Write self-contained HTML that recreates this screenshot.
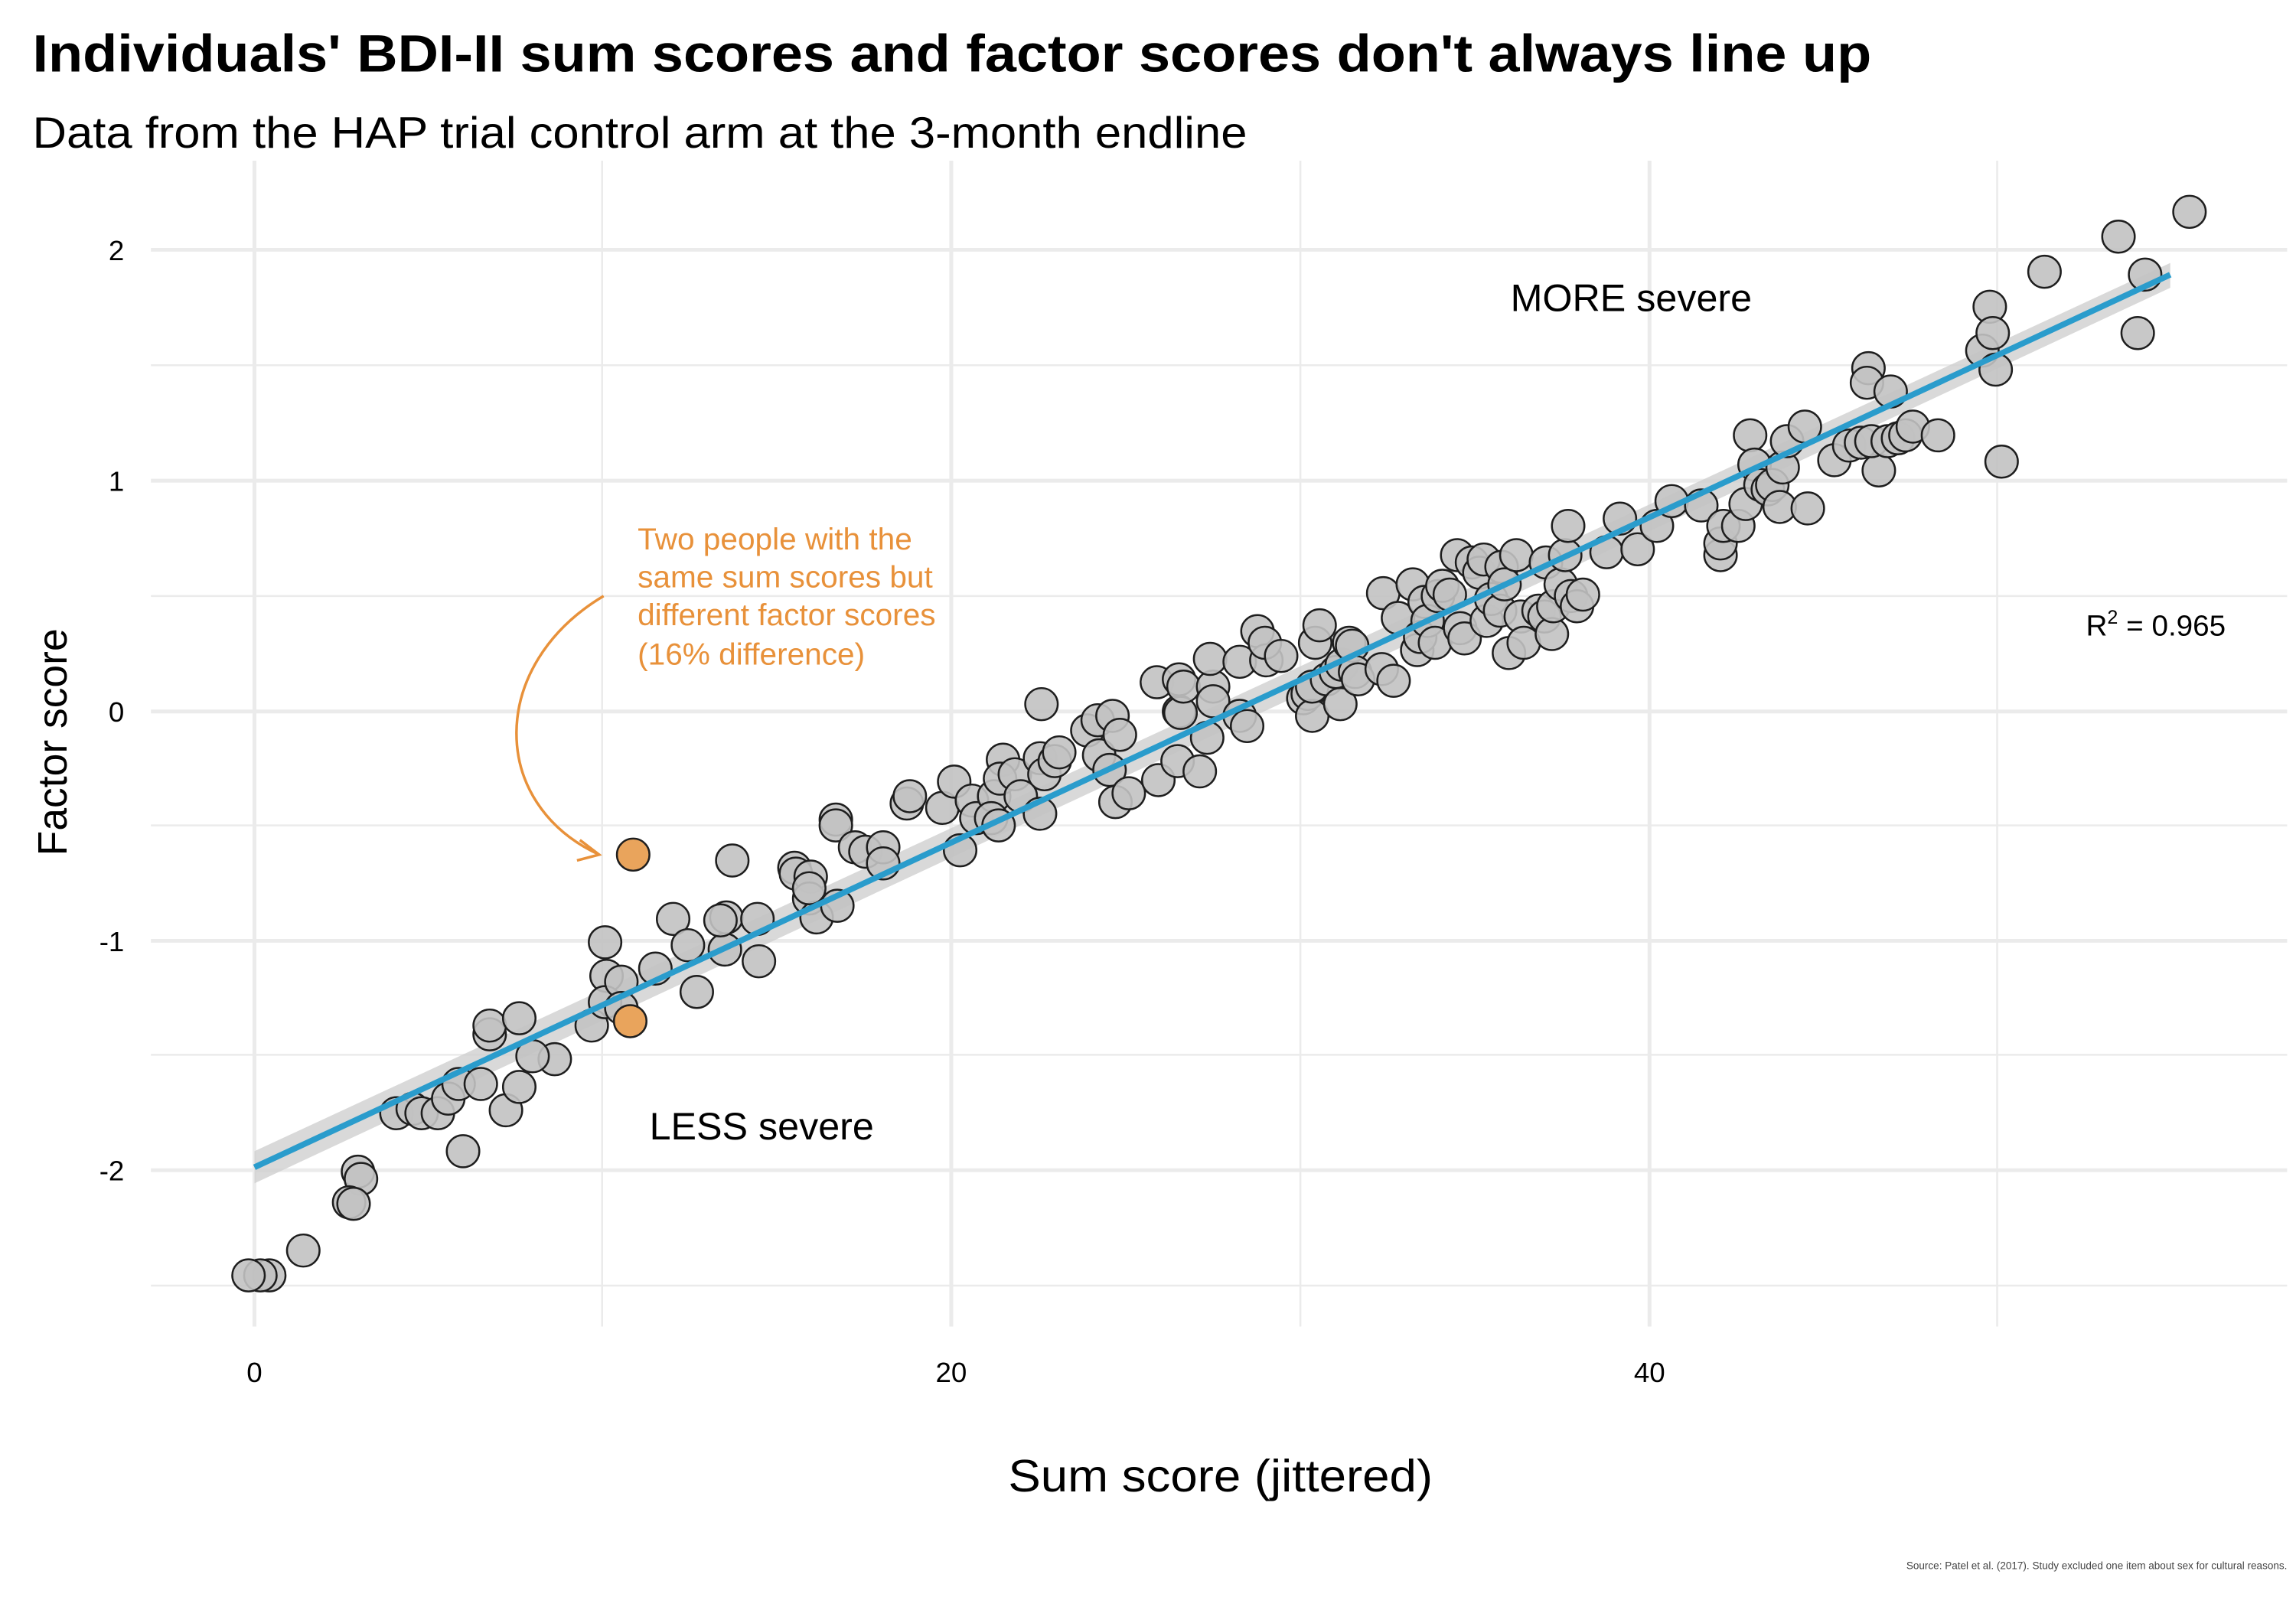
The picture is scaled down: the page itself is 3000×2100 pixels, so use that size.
<!DOCTYPE html>
<html><head><meta charset="utf-8"><style>html,body{margin:0;padding:0;background:#fff}svg{display:block}</style></head>
<body>
<svg width="3000" height="2100" viewBox="0 0 1552 1100" preserveAspectRatio="none" xmlns="http://www.w3.org/2000/svg">
<rect width="1552" height="1100" fill="#fff"/>
<g stroke="#ebebeb" stroke-width="1.3">
<line x1="407" y1="110" x2="407" y2="908"/><line x1="879" y1="110" x2="879" y2="908"/><line x1="1350" y1="110" x2="1350" y2="908"/>
<line x1="102" y1="250" x2="1546" y2="250"/><line x1="102" y1="408" x2="1546" y2="408"/><line x1="102" y1="565" x2="1546" y2="565"/><line x1="102" y1="722" x2="1546" y2="722"/><line x1="102" y1="880" x2="1546" y2="880"/>
</g>
<g stroke="#ebebeb" stroke-width="2.6">
<line x1="172" y1="110" x2="172" y2="908"/><line x1="643" y1="110" x2="643" y2="908"/><line x1="1115" y1="110" x2="1115" y2="908"/>
<line x1="102" y1="171" x2="1546" y2="171"/><line x1="102" y1="329" x2="1546" y2="329"/><line x1="102" y1="487" x2="1546" y2="487"/><line x1="102" y1="644" x2="1546" y2="644"/><line x1="102" y1="801" x2="1546" y2="801"/>
</g>
<g font-family="Liberation Sans, sans-serif" font-size="19" fill="#000">
<text x="172" y="946" text-anchor="middle">0</text><text x="643" y="946" text-anchor="middle">20</text><text x="1115" y="946" text-anchor="middle">40</text>
<text x="84" y="178" text-anchor="end">2</text><text x="84" y="336" text-anchor="end">1</text><text x="84" y="494" text-anchor="end">0</text><text x="84" y="651" text-anchor="end">-1</text><text x="84" y="808" text-anchor="end">-2</text>
</g>
<polygon points="172,788 1467,180 1467,197 172,810" fill="#d0d0d0" opacity="0.8"/>
<g fill="#c2c2c2" fill-opacity="0.9" stroke="#1e1e1e" stroke-width="1.3">
<circle cx="182" cy="873" r="11"/><circle cx="176" cy="873" r="11"/><circle cx="168" cy="873" r="11"/><circle cx="205" cy="856" r="11"/><circle cx="242" cy="802" r="11"/><circle cx="244" cy="807" r="11"/><circle cx="236" cy="823" r="11"/><circle cx="239" cy="824" r="11"/><circle cx="313" cy="788" r="11"/><circle cx="268" cy="762" r="11"/><circle cx="279" cy="759" r="11"/><circle cx="285" cy="762" r="11"/><circle cx="296" cy="762" r="11"/><circle cx="303" cy="752" r="11"/><circle cx="310" cy="742" r="11"/><circle cx="325" cy="742" r="11"/><circle cx="342" cy="760" r="11"/><circle cx="351" cy="744" r="11"/><circle cx="331" cy="708" r="11"/><circle cx="331" cy="702" r="11"/><circle cx="351" cy="697" r="11"/><circle cx="375" cy="725" r="11"/><circle cx="360" cy="723" r="11"/><circle cx="400" cy="702" r="11"/><circle cx="409" cy="645" r="11"/><circle cx="410" cy="668" r="11"/><circle cx="409" cy="686" r="11"/><circle cx="420" cy="672" r="11"/><circle cx="420" cy="690" r="11"/><circle cx="443" cy="663" r="11"/><circle cx="455" cy="629" r="11"/><circle cx="465" cy="647" r="11"/><circle cx="471" cy="679" r="11"/><circle cx="491" cy="628" r="11"/><circle cx="490" cy="650" r="11"/><circle cx="495" cy="589" r="11"/><circle cx="512" cy="629" r="11"/><circle cx="513" cy="658" r="11"/><circle cx="487" cy="630" r="11"/><circle cx="537" cy="594" r="11"/><circle cx="538" cy="598" r="11"/><circle cx="548" cy="600" r="11"/><circle cx="547" cy="615" r="11"/><circle cx="552" cy="628" r="11"/><circle cx="547" cy="608" r="11"/><circle cx="566" cy="620" r="11"/><circle cx="565" cy="561" r="11"/><circle cx="565" cy="565" r="11"/><circle cx="578" cy="580" r="11"/><circle cx="585" cy="583" r="11"/><circle cx="597" cy="580" r="11"/><circle cx="597" cy="591" r="11"/><circle cx="613" cy="550" r="11"/><circle cx="615" cy="545" r="11"/><circle cx="637" cy="553" r="11"/><circle cx="645" cy="535" r="11"/><circle cx="649" cy="582" r="11"/><circle cx="657" cy="548" r="11"/><circle cx="660" cy="560" r="11"/><circle cx="672" cy="545" r="11"/><circle cx="678" cy="520" r="11"/><circle cx="676" cy="533" r="11"/><circle cx="670" cy="560" r="11"/><circle cx="675" cy="565" r="11"/><circle cx="686" cy="530" r="11"/><circle cx="690" cy="545" r="11"/><circle cx="703" cy="519" r="11"/><circle cx="703" cy="557" r="11"/><circle cx="704" cy="482" r="11"/><circle cx="706" cy="530" r="11"/><circle cx="713" cy="521" r="11"/><circle cx="716" cy="515" r="11"/><circle cx="735" cy="500" r="11"/><circle cx="742" cy="493" r="11"/><circle cx="752" cy="490" r="11"/><circle cx="743" cy="517" r="11"/><circle cx="750" cy="527" r="11"/><circle cx="757" cy="503" r="11"/><circle cx="754" cy="549" r="11"/><circle cx="763" cy="543" r="11"/><circle cx="782" cy="467" r="11"/><circle cx="783" cy="534" r="11"/><circle cx="797" cy="465" r="11"/><circle cx="797" cy="487" r="11"/><circle cx="798" cy="488" r="11"/><circle cx="800" cy="470" r="11"/><circle cx="796" cy="521" r="11"/><circle cx="811" cy="528" r="11"/><circle cx="816" cy="505" r="11"/><circle cx="820" cy="470" r="11"/><circle cx="818" cy="451" r="11"/><circle cx="820" cy="480" r="11"/><circle cx="838" cy="490" r="11"/><circle cx="843" cy="497" r="11"/><circle cx="838" cy="453" r="11"/><circle cx="850" cy="432" r="11"/><circle cx="856" cy="452" r="11"/><circle cx="855" cy="440" r="11"/><circle cx="866" cy="449" r="11"/><circle cx="881" cy="478" r="11"/><circle cx="884" cy="475" r="11"/><circle cx="887" cy="490" r="11"/><circle cx="887" cy="470" r="11"/><circle cx="889" cy="440" r="11"/><circle cx="892" cy="428" r="11"/><circle cx="897" cy="465" r="11"/><circle cx="903" cy="460" r="11"/><circle cx="906" cy="482" r="11"/><circle cx="907" cy="455" r="11"/><circle cx="912" cy="440" r="11"/><circle cx="914" cy="442" r="11"/><circle cx="916" cy="460" r="11"/><circle cx="918" cy="465" r="11"/><circle cx="934" cy="458" r="11"/><circle cx="935" cy="406" r="11"/><circle cx="942" cy="466" r="11"/><circle cx="945" cy="423" r="11"/><circle cx="955" cy="400" r="11"/><circle cx="958" cy="445" r="11"/><circle cx="960" cy="436" r="11"/><circle cx="963" cy="412" r="11"/><circle cx="965" cy="425" r="11"/><circle cx="970" cy="440" r="11"/><circle cx="972" cy="408" r="11"/><circle cx="975" cy="401" r="11"/><circle cx="980" cy="407" r="11"/><circle cx="985" cy="380" r="11"/><circle cx="987" cy="430" r="11"/><circle cx="990" cy="437" r="11"/><circle cx="995" cy="385" r="11"/><circle cx="1000" cy="392" r="11"/><circle cx="1003" cy="383" r="11"/><circle cx="1005" cy="425" r="11"/><circle cx="1008" cy="410" r="11"/><circle cx="1014" cy="418" r="11"/><circle cx="1015" cy="388" r="11"/><circle cx="1017" cy="400" r="11"/><circle cx="1020" cy="447" r="11"/><circle cx="1025" cy="380" r="11"/><circle cx="1028" cy="422" r="11"/><circle cx="1030" cy="440" r="11"/><circle cx="1040" cy="418" r="11"/><circle cx="1045" cy="385" r="11"/><circle cx="1044" cy="422" r="11"/><circle cx="1049" cy="434" r="11"/><circle cx="1050" cy="415" r="11"/><circle cx="1055" cy="400" r="11"/><circle cx="1058" cy="380" r="11"/><circle cx="1060" cy="360" r="11"/><circle cx="1062" cy="408" r="11"/><circle cx="1066" cy="415" r="11"/><circle cx="1070" cy="407" r="11"/><circle cx="1086" cy="378" r="11"/><circle cx="1095" cy="355" r="11"/><circle cx="1107" cy="376" r="11"/><circle cx="1120" cy="360" r="11"/><circle cx="1130" cy="343" r="11"/><circle cx="1150" cy="346" r="11"/><circle cx="1163" cy="380" r="11"/><circle cx="1163" cy="372" r="11"/><circle cx="1165" cy="360" r="11"/><circle cx="1175" cy="360" r="11"/><circle cx="1180" cy="345" r="11"/><circle cx="1183" cy="298" r="11"/><circle cx="1186" cy="318" r="11"/><circle cx="1190" cy="332" r="11"/><circle cx="1195" cy="335" r="11"/><circle cx="1198" cy="332" r="11"/><circle cx="1203" cy="347" r="11"/><circle cx="1205" cy="320" r="11"/><circle cx="1208" cy="302" r="11"/><circle cx="1220" cy="292" r="11"/><circle cx="1222" cy="348" r="11"/><circle cx="1240" cy="315" r="11"/><circle cx="1250" cy="305" r="11"/><circle cx="1258" cy="303" r="11"/><circle cx="1263" cy="252" r="11"/><circle cx="1262" cy="262" r="11"/><circle cx="1270" cy="322" r="11"/><circle cx="1265" cy="302" r="11"/><circle cx="1278" cy="268" r="11"/><circle cx="1276" cy="302" r="11"/><circle cx="1283" cy="300" r="11"/><circle cx="1288" cy="298" r="11"/><circle cx="1293" cy="292" r="11"/><circle cx="1310" cy="298" r="11"/><circle cx="1340" cy="240" r="11"/><circle cx="1345" cy="210" r="11"/><circle cx="1347" cy="228" r="11"/><circle cx="1349" cy="253" r="11"/><circle cx="1353" cy="316" r="11"/><circle cx="1382" cy="186" r="11"/><circle cx="1432" cy="162" r="11"/><circle cx="1445" cy="228" r="11"/><circle cx="1450" cy="188" r="11"/><circle cx="1480" cy="145" r="11"/>
</g>
<g fill="#e9a45c" stroke="#1e1e1e" stroke-width="1.3">
<circle cx="428" cy="585" r="11"/><circle cx="426" cy="699" r="11"/>
</g>
<line x1="172" y1="799" x2="1467" y2="188" stroke="#2a9ccc" stroke-width="4"/>
<path d="M408,408 C330,455 330,550 405,585" fill="none" stroke="#e8913a" stroke-width="1.8"/>
<path d="M392,575 L405,585 L390,589" fill="none" stroke="#e8913a" stroke-width="1.8"/>
<g font-family="Liberation Sans, sans-serif" font-size="21" fill="#e8913a">
<text x="431" y="376">Two people with the</text><text x="431" y="402">same sum scores but</text><text x="431" y="428">different factor scores</text><text x="431" y="455">(16% difference)</text>
</g>
<g font-family="Liberation Sans, sans-serif" fill="#000">
<text x="1021" y="213" font-size="26">MORE severe</text>
<text x="439" y="780" font-size="26">LESS severe</text>
<text x="1410" y="435" font-size="20">R<tspan dy="-8" font-size="13">2</tspan><tspan dy="8"> = 0.965</tspan></text>
<text x="22" y="49" font-size="36" font-weight="bold" textLength="1243" lengthAdjust="spacingAndGlyphs">Individuals' BDI-II sum scores and factor scores don't always line up</text>
<text x="22" y="101" font-size="30" textLength="821" lengthAdjust="spacingAndGlyphs">Data from the HAP trial control arm at the 3-month endline</text>
<text x="825" y="1021" font-size="31" text-anchor="middle" textLength="287" lengthAdjust="spacingAndGlyphs">Sum score (jittered)</text>
<text transform="translate(45,508) rotate(-90)" font-size="28" text-anchor="middle">Factor score</text>
<text x="1546" y="1074" font-size="7" fill="#444" text-anchor="end">Source: Patel et al. (2017). Study excluded one item about sex for cultural reasons.</text>
</g>
</svg>
</body></html>
